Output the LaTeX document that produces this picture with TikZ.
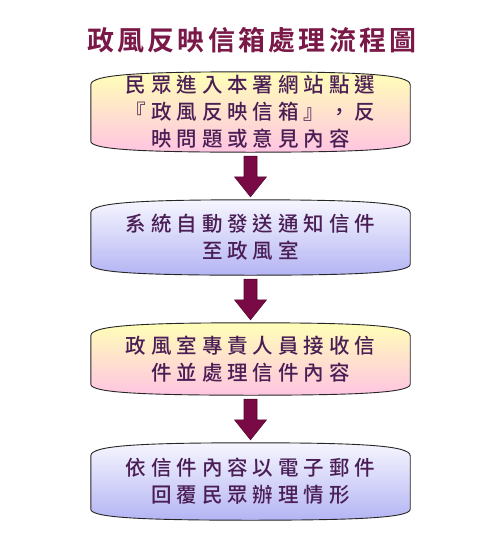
\documentclass[tikz,border=0pt]{standalone}
\usepackage{fontspec}
\newfontfamily\cjk[LetterSpace=24]{Noto Sans CJK TC Medium}
\newfontfamily\cjktitle[LetterSpace=12]{Noto Sans CJK TC Bold}
\usetikzlibrary{calc}
\pgfdeclarelayer{background}
\pgfdeclarelayer{paper}
\pgfsetlayers{paper,background,main}
\definecolor{txtcol}{HTML}{4A1E55}
\definecolor{titlecol}{HTML}{7A1848}
\definecolor{arrowcol}{HTML}{7A0A45}
\definecolor{yeltop}{HTML}{FFFFB8}
\definecolor{pinkbot}{HTML}{FFC4E2}
\definecolor{lavtop}{HTML}{F6F6FF}
\definecolor{lavbot}{HTML}{B4B4F4}
\tikzset{
  boxnode/.style={inner sep=0pt, minimum width=319pt, align=center,
    text=txtcol, font=\cjk\fontsize{20.5}{27}\selectfont},
  boxline/.style={draw=black!85, line width=0.9pt},
  warm/.style={boxline, top color=yeltop, bottom color=pinkbot},
  cool/.style={boxline, top color=lavtop, bottom color=lavbot},
  arrowfill/.style={fill=arrowcol, draw=arrowcol!70!black, line width=0.6pt}
}
\newcommand\bowshape[2]{%
  \begin{pgfonlayer}{background}
  \path[#2]
    ($(#1.north west)+(0,-13pt)$) .. controls ($(#1.north west)+(0,-3pt)$) and ($(#1.north west)+(45pt,0)$) .. (#1.north)
    .. controls ($(#1.north east)+(-45pt,0)$) and ($(#1.north east)+(0,-3pt)$) .. ($(#1.north east)+(0,-13pt)$)
    -- ($(#1.south east)+(0,11pt)$)
    .. controls ($(#1.south east)+(0,3pt)$) and ($(#1.south east)+(-45pt,0)$) .. (#1.south)
    .. controls ($(#1.south west)+(45pt,0)$) and ($(#1.south west)+(0,3pt)$) .. ($(#1.south west)+(0,11pt)$)
    -- cycle;
  \end{pgfonlayer}}
\newcommand\blockarrow[2]{%
  \path[arrowfill] let \p1=($(#1.south)+(0,-4pt)$), \p2=($(#2.north)+(0,3pt)$) in
    (\x1-6.5pt,\y1) -- (\x1+6.5pt,\y1) -- (\x1+6.5pt,\y2+20pt) -- (\x1+16pt,\y2+20pt)
    -- (\x1,\y2) -- (\x1-16pt,\y2+20pt) -- (\x1-6.5pt,\y2+20pt) -- cycle;}
\begin{document}
\begin{tikzpicture}[x=1pt,y=-1pt]
\begin{pgfonlayer}{paper}
\fill[white] (0,0) rectangle (500,546);
\end{pgfonlayer}
\useasboundingbox (0,0) rectangle (500,546);
\node[text=titlecol, font=\cjktitle\fontsize{27}{30}\selectfont, inner sep=0pt] (title) at (252,40) {政風反映信箱處理流程圖};
\node[boxnode, minimum height=80pt] (b1) at (250.5,112) {民眾進入本署網站點選\\『政風反映信箱』，反\\映問題或意見內容};
\node[boxnode, minimum height=75pt] (b2) at (250.5,237.5) {系統自動發送通知信件\\至政風室};
\node[boxnode, minimum height=72pt] (b3) at (250.5,359) {政風室專責人員接收信\\件並處理信件內容};
\node[boxnode, minimum height=77pt] (b4) at (250.5,481.5) {依信件內容以電子郵件\\回覆民眾辦理情形};
\bowshape{b1}{warm}
\bowshape{b2}{cool}
\bowshape{b3}{warm}
\bowshape{b4}{cool}
\blockarrow{b1}{b2}
\blockarrow{b2}{b3}
\blockarrow{b3}{b4}
\end{tikzpicture}
\end{document}
